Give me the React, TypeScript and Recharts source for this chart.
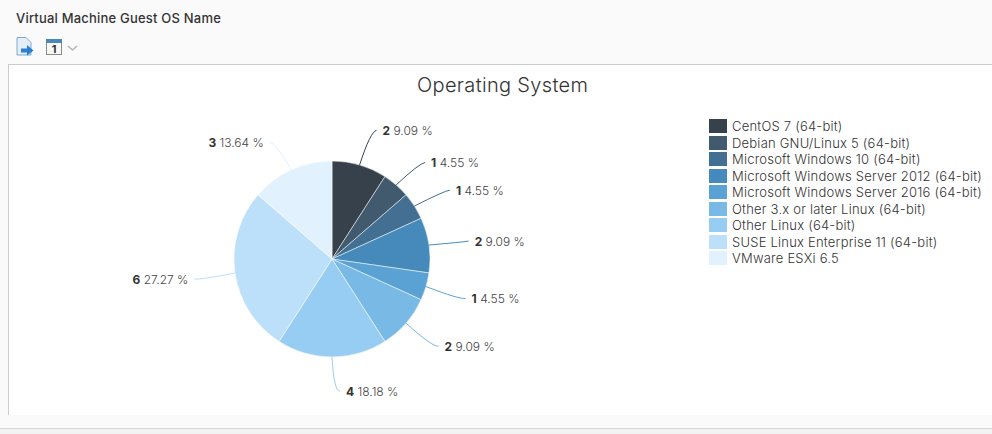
import { Legend, Pie, PieChart, Cell } from "recharts";

const categories = [
  "CentOS 7 (64-bit)",
  "Debian GNU/Linux 5 (64-bit)",
  "Microsoft Windows 10 (64-bit)",
  "Microsoft Windows Server 2012 (64-bit)",
  "Microsoft Windows Server 2016 (64-bit)",
  "Other 3.x or later Linux (64-bit)",
  "Other Linux (64-bit)",
  "SUSE Linux Enterprise 11 (64-bit)",
  "VMware ESXi 6.5",
];
const counts = [2, 1, 1, 2, 1, 2, 4, 6, 3];
const percents = ["9.09", "4.55", "4.55", "9.09", "4.55", "9.09", "18.18", "27.27", "13.64"];
const colors = ["#36414b", "#415a6e", "#436f92", "#458abb", "#5aa2d3", "#79b9e6", "#98cdf3", "#bce0fa", "#e1f1fe"];

const data = categories.map((name, i) => ({ name, value: counts[i], percent: percents[i] }));

const FONT = "Inter, 'Noto Sans', sans-serif";
const RAD = Math.PI / 180;
// the original chart shifts its labels a little to keep them apart
const labelShiftY = [0, 5, 4, 2, 3, 1, 0, 2, 5];
const labelShiftX = [1, 0, 0, -1, 0, 0, 2, 0, -1];

function SliceLabel(props: any) {
  const { cx, cy, midAngle, outerRadius, index } = props;
  const sin = Math.sin(midAngle * RAD);
  const cos = Math.cos(midAngle * RAD);
  const sx = cx + outerRadius * cos;
  const sy = cy - outerRadius * sin;
  const ex = cx + (outerRadius + 35) * cos + labelShiftX[index];
  const ey = cy - (outerRadius + 35) * sin + labelShiftY[index];
  const right = cos >= -0.001;
  const gap = right ? 12 : -12;
  const tx = ex + gap;
  const lineEnd = ex + (right ? 6 : -6);
  return (
    <g>
      <path
        d={`M${sx},${sy} Q${ex},${ey} ${lineEnd},${ey - 1}`}
        fill="none"
        stroke={colors[index]}
        strokeWidth={1}
      />
      <text
        x={tx}
        y={ey + 1}
        dominantBaseline="middle"
        textAnchor={right ? "start" : "end"}
        fontFamily={FONT}
        fontSize={12}
        fontWeight={300}
        fill="#444"
      >
        <tspan fontWeight={700} fill="#333">{counts[index]}</tspan>
        <tspan> {percents[index]} %</tspan>
      </text>
    </g>
  );
}

function LegendList() {
  return (
    <div style={{ fontFamily: FONT, fontSize: 13, fontWeight: 300, letterSpacing: 0.22, color: "#333" }}>
      {categories.map((c, i) => (
        <div key={c} style={{ display: "flex", alignItems: "center", height: 16.5, whiteSpace: "nowrap" }}>
          <span style={{ width: 18, height: 14, marginRight: 5, background: colors[i] }} />
          {c}
        </div>
      ))}
    </div>
  );
}

export default function App() {
  return (
    <div style={{ position: "absolute", left: 0, top: 0, width: 992, height: 434, overflow: "hidden", background: "#fafafa", fontFamily: FONT }}>
      <div style={{ position: "absolute", left: 16, top: 10, fontSize: 13, fontWeight: 500, letterSpacing: 0.2, color: "#333" }}>
        Virtual Machine Guest OS Name
      </div>
      <svg style={{ position: "absolute", left: 14, top: 36 }} width={70} height={22}>
        <path d="M3,1.500 H12 L17,6.500 V19 H3 Z" fill="#e3eef9" stroke="#7fa9d2" />
        <path d="M7,12.500 H13 V9 L19.500,14.500 L13,19.500 V16.500 H7 Z" fill="#2b7fd0" />
        <rect x={32.500} y={3.500} width={15} height={15} fill="#f7f7f4" stroke="#8a8a8a" />
        <rect x={32} y={3} width={16} height={4} fill="#4a86b8" />
        <text x={40} y={17} fontSize={11} fontWeight={700} fill="#333" textAnchor="middle" fontFamily={FONT}>1</text>
        <path d="M54,10 L58.500,14 L63,10" fill="none" stroke="#b5b5b5" strokeWidth={1.500} />
      </svg>
      <div style={{ position: "absolute", left: 8, top: 64, width: 984, height: 351, background: "#fff", borderLeft: "1px solid #ccc", borderTop: "1px solid #ccc", boxSizing: "border-box" }} />
      <div style={{ position: "absolute", left: 0, top: 428, width: 992, height: 6, background: "#f2f2f2", borderTop: "1px solid #d7d7d7" }} />
      <div style={{ position: "absolute", left: 417, top: 73, fontSize: 20, fontWeight: 300, letterSpacing: 0.33, whiteSpace: "nowrap", color: "#333" }}>
        Operating System
      </div>
      <div style={{ position: "absolute", left: 0, top: 0 }}>
        <PieChart width={992} height={434} margin={{ top: 0, right: 0, bottom: 0, left: 0 }}>
          <Pie
            data={data}
            dataKey="value"
            nameKey="name"
            cx={332}
            cy={259}
            outerRadius={98}
            startAngle={90}
            endAngle={-270}
            stroke="#ffffff"
            strokeOpacity={0.5}
            strokeWidth={1}
            isAnimationActive={false}
            labelLine={false}
            label={SliceLabel}
          >
            {data.map((d, i) => (
              <Cell key={d.name} fill={colors[i]} />
            ))}
          </Pie>
          <Legend
            layout="vertical"
            content={<LegendList />}
            wrapperStyle={{ position: "absolute", left: 709, top: 118, width: 283 }}
          />
        </PieChart>
      </div>
    </div>
  );
}
